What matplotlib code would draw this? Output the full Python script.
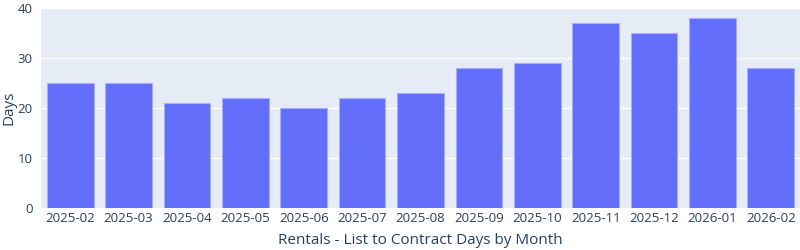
import matplotlib
matplotlib.use("Agg")
import matplotlib.pyplot as plt

plt.rcParams['font.family'] = ['Open Sans', 'DejaVu Sans']

months = ["2025-02", "2025-03", "2025-04", "2025-05", "2025-06", "2025-07", "2025-08",
          "2025-09", "2025-10", "2025-11", "2025-12", "2026-01", "2026-02"]
days = [25, 25, 21, 22, 20, 22, 23, 28, 29, 37, 35, 38, 28]

text_color = "#2a3f5f"

fig = plt.figure(figsize=(8, 2.5), dpi=100)
ax = fig.add_axes([41 / 800, 42 / 250, 759 / 800, 200 / 250])
ax.set_facecolor("#E5ECF6")

x = range(len(months))
ax.bar(x, days, width=0.8, color="#636EFA", edgecolor="#A9AFFC", linewidth=0.8, zorder=3)

ax.set_xlim(-0.5, len(months) - 0.5)
ax.set_ylim(0, 40)
ax.set_yticks([0, 10, 20, 30, 40])
ax.set_xticks(list(x))
ax.set_xticklabels(months)
ax.grid(axis="y", color="white", linewidth=1, zorder=0)
ax.set_axisbelow(True)
for s in ax.spines.values():
    s.set_visible(False)
ax.tick_params(length=0, colors=text_color, labelsize=9.5, pad=3)
ax.tick_params(axis="y", pad=6)

# axis titles placed in figure coords so they stay inside the canvas
fig.text(9 / 800, 142 / 250, "Days", color=text_color, fontsize=11,
         rotation=90, ha="center", va="center")
fig.text(420 / 800, 9 / 250, "Rentals - List to Contract Days by Month", color=text_color,
         fontsize=11, ha="center", va="center")

fig.savefig("out.png", dpi=100)
